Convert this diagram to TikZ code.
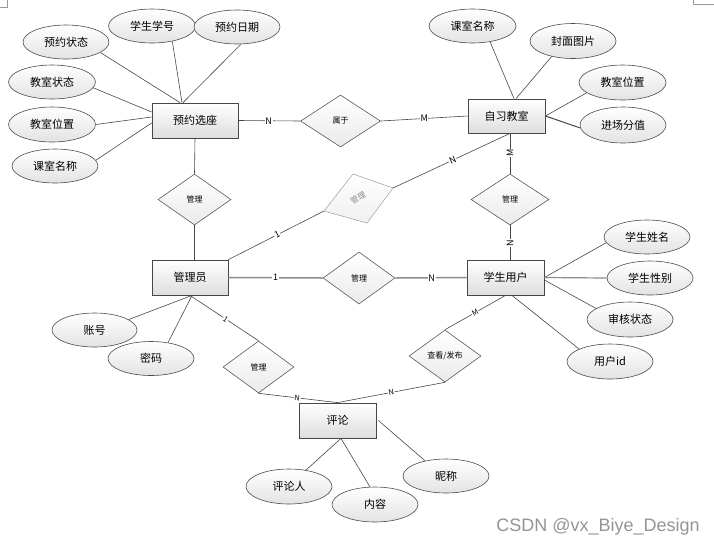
\documentclass[tikz,border=0pt]{standalone}
\usepackage{fontspec}
\setmainfont{Noto Sans CJK SC}
\newfontfamily\wmfont{Liberation Sans}
\usetikzlibrary{shapes.geometric,shadows}
\begin{document}
\begin{tikzpicture}[x=1pt,y=-1pt,
 ent/.style={rectangle,draw=black!72,line width=0.8pt,top color=white,bottom color=black!13,
   minimum width=77pt,minimum height=35pt,inner sep=0pt,font=\fontsize{11}{13}\selectfont,
   drop shadow={opacity=0.25,shadow xshift=1.2pt,shadow yshift=-1.2pt}},
 attr/.style={ellipse,draw=black!70,line width=0.6pt,top color=white,bottom color=black!11,
   minimum width=86pt,minimum height=34pt,inner sep=0pt,font=\fontsize{11}{13}\selectfont},
 rel/.style={diamond,draw=black!65,line width=0.6pt,top color=white,bottom color=black!8,
   inner sep=0pt,font=\fontsize{8}{9}\selectfont},
 ln/.style={draw=black!72,line width=0.6pt},
 lnb/.style={draw=black!45,line width=1.5pt},
 card/.style={fill=white,inner sep=0.6pt,font=\fontsize{9}{10}\selectfont},
]
\useasboundingbox (0,0) rectangle (714,547);

% corner marks
\draw[black!40,line width=0.5pt] (0,7) -- (7,7) -- (7,0);
\draw[black!40,line width=0.5pt] (714,4) -- (693,4) -- (693,0);

% entities
\node[ent,minimum width=86pt] (yy) at (195,120.5) {预约选座};
\node[ent,minimum height=34pt] (zx) at (506.5,116) {自习教室};
\node[ent,minimum width=76pt] (gly) at (190,277.5) {管理员};
\node[ent] (xs) at (505.5,277.5) {学生用户};
\node[ent] (pl) at (337.5,420.5) {评论};

% relationships
\node[rel,minimum width=80pt,minimum height=52pt] (sy) at (340.5,121) {属于};
\node[rel,minimum width=73pt,minimum height=51pt] (gl1) at (194.5,199.5) {管理};
\node[rel,minimum width=78pt,minimum height=51pt] (gl2) at (510,199.5) {管理};
\node[rel,minimum width=72pt,minimum height=52pt] (gl3) at (359,278) {管理};
\node[rel,minimum width=71pt,minimum height=52pt] (gl4) at (258.5,367) {管理};
\node[rel,minimum width=72pt,minimum height=52pt] (ck) at (445,356) {查看/发布};

% faded relationship
\coordinate (fdT) at (353,174);
\coordinate (fdR) at (393,188);
\coordinate (fdB) at (367,223);
\coordinate (fdL) at (324,211);
\filldraw[draw=black!30,line width=0.5pt,top color=white,bottom color=black!6] (fdT) -- (fdR) -- (fdB) -- (fdL) -- cycle;
\node[rotate=30,text=black!45,font=\fontsize{8}{9}\selectfont] (fd) at (358,198) {管理};

% attributes
\node[attr] (a1) at (66,42) {预约状态};
\node[attr,minimum width=87pt] (a2) at (152,26) {学生学号};
\node[attr] (a3) at (237,27) {预约日期};
\node[attr,minimum width=87pt] (a4) at (52,82) {教室状态};
\node[attr,minimum width=87pt,minimum height=35pt] (a5) at (52,124.5) {教室位置};
\node[attr] (a6) at (55,166) {课室名称};
\node[attr,minimum width=87pt] (b1) at (472.5,26) {课室名称};
\node[attr,minimum height=35pt] (b2) at (573,41) {封面图片};
\node[attr,minimum width=87pt,minimum height=35pt] (b3) at (622.5,82.5) {教室位置};
\node[attr,minimum height=36pt] (b4) at (623,125) {进场分值};
\node[attr] (c1) at (647,237) {学生姓名};
\node[attr] (c2) at (650,278) {学生性别};
\node[attr,minimum height=35pt] (c3) at (630,319.5) {审核状态};
\node[attr,minimum height=35pt] (c4) at (610,361.5) {用户id};
\node[attr,minimum width=85pt] (d1) at (94.5,330) {账号};
\node[attr] (d2) at (151,358.5) {密码};
\node[attr,minimum height=35pt] (e1) at (289,486.5) {评论人};
\node[attr,minimum height=35pt] (e2) at (375,504.5) {内容};
\node[attr] (e3) at (446,476) {昵称};

% attribute lines
\draw[ln] (a1.-17) -- ([xshift=-15pt]yy.north);
\draw[ln] (a2.-37) -- ([xshift=-13pt]yy.north);
\draw[ln] (a3.-77) -- ([xshift=-12pt]yy.north);
\draw[ln] (a4.-8) -- ([yshift=8.5pt]yy.west);
\draw[ln] (a5.0) -- ([yshift=3.5pt]yy.west);
\draw[ln] (a6.8) -- ([yshift=-2.5pt]yy.west);
\draw[ln] (b1.-42) -- ([xshift=7.5pt]zx.north);
\draw[ln] (b2.-144) -- ([xshift=9.5pt]zx.north);
\draw[ln] (b3.-164) -- (zx.east);
\draw[ln,line width=1pt] (b4.-176) -- (zx.east);
\draw[ln] (c1.-172) -- (xs.east);
\draw[lnb,line width=1.2pt] (c2.west) -- (xs.east);
\draw[ln] (c3.162) -- ([yshift=-2.5pt]xs.east);
\draw[ln] (c4.158) -- ([xshift=6.5pt]xs.south);
\draw[ln] (d1.17) -- ([xshift=2pt]gly.south);
\draw[ln] (d2.43) -- ([xshift=2pt]gly.south);
\draw[ln] (e1.44) -- ([xshift=3.5pt]pl.south);
\draw[ln] (e2.106) -- ([xshift=3.5pt]pl.south);
\draw[ln] (e3.144) -- ([xshift=2pt]pl.east);

% relationship lines
\draw[ln] (yy.east) -- node[card,pos=0.49] {N} (sy.west);
\draw[ln] (sy.east) -- node[card,pos=0.5] {M} (zx.west);
\draw[ln] ([xshift=3.5pt]zx.south) -- node[card,pos=0.49,rotate=90] {M} (gl2.north);
\draw[ln] (gl2.south) -- node[card,pos=0.51,rotate=90] {N} ([xshift=4.5pt]xs.north);
\draw[ln] ([xshift=3.5pt]zx.south) -- node[card,pos=0.49,rotate=25] {N} (fdR);
\draw[ln] (fdL) -- node[card,pos=0.49,rotate=27] {1} (gly.north east);
\draw[ln] (yy.south) -- (gl1.north);
\draw[ln] (gl1.south) -- ([xshift=4.5pt]gly.north);
\draw[lnb] (gly.east) -- node[card,pos=0.5,text=black] {1} (gl3.west);
\draw[lnb] (gl3.east) -- node[card,pos=0.51,text=black] {N} (xs.west);
\draw[ln] (xs.south) -- node[card,pos=0.5,rotate=30,font=\fontsize{7.5}{8}\selectfont] {M} (ck.north);
\draw[ln] (ck.south) -- node[card,pos=0.5,rotate=11,font=\fontsize{7.5}{8}\selectfont] {N} (pl.north);
\draw[ln] (gly.south) -- node[card,pos=0.52,rotate=-34,font=\fontsize{7.5}{8}\selectfont] {1} (gl4.north);
\draw[ln] (gl4.south) -- node[card,pos=0.49,rotate=-7,font=\fontsize{7.5}{8}\selectfont] {N} (pl.north);

% watermark
\node[font=\wmfont\fontsize{18}{20}\selectfont,text=black!42,anchor=east,inner sep=0pt] (wm) at (700,527) {CSDN @vx\_Biye\_Design};
\end{tikzpicture}
\end{document}
